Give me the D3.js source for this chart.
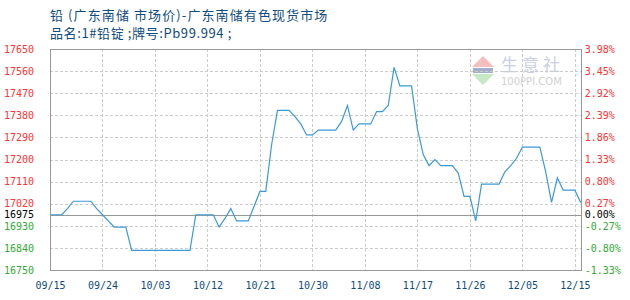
<!DOCTYPE html>
<html>
<head>
<meta charset="utf-8">
<script src="https://cdn.jsdelivr.net/npm/d3@7"></script>
<style>
  body { margin: 0; background: #fff; }
  svg { display: block; }
</style>
</head>
<body>
<svg id="chart" width="630" height="300"></svg>
<script>
// daily prices, 09/15 .. 12/16
const prices = [
  16975, 16975, 16975, 17000, 17030, 17030, 17030, 17030, 17000, 16975,
  16950, 16925, 16925, 16925, 16830, 16830, 16830, 16830, 16830, 16830,
  16830, 16830, 16830, 16830, 16830, 16975, 16975, 16975, 16975, 16925,
  16960, 17000, 16950, 16950, 16950, 17010, 17070, 17070, 17260, 17400,
  17400, 17400, 17375, 17345, 17300, 17300, 17320, 17320, 17320, 17320,
  17355, 17420, 17320, 17345, 17345, 17345, 17395, 17395, 17420, 17575,
  17500, 17500, 17500, 17325, 17220, 17175, 17200, 17175, 17175, 17175,
  17145, 17050, 17050, 16950, 17100, 17100, 17100, 17100, 17150, 17175,
  17205, 17250, 17250, 17250, 17250, 17150, 17025, 17125, 17075, 17075,
  17075, 17025
];
const dateLabels = ["09/15", "09/24", "10/03", "10/12", "10/21", "10/30", "11/08", "11/17", "11/26", "12/05", "12/15"];
const yTicks = [16750, 16840, 16930, 17020, 17110, 17200, 17290, 17380, 17470, 17560, 17650];
const basePrice = 16975;

const svg = d3.select("#chart");
const plotLeft = 50, plotRight = 580.7, plotTop = 49, plotBottom = 270;
const labelStep = 9;

const red = "#ff3333", green = "#33aa33", navy = "#0f4c81";
const mono = "'DejaVu Sans Mono', monospace";

// Scales
const x = d3.scaleLinear().domain([0, prices.length - 1]).range([plotLeft, plotRight]);
const y = d3.scaleLinear().domain([d3.min(yTicks), d3.max(yTicks)]).range([plotBottom, plotTop]);

// Title
const title = svg.append("g")
  .attr("font-family", "'Noto Sans CJK SC', sans-serif")
  .attr("font-size", 13)
  .attr("fill", navy);
title.append("text").attr("x", 50).attr("y", 20).attr("letter-spacing", 1.1)
  .text("铅 (广东南储 市场价)-广东南储有色现货市场");
title.append("text").attr("x", 50).attr("y", 38).attr("letter-spacing", 0.6)
  .text("品名:1#铅锭 ;牌号:Pb99.994 ;");

// Watermark
const wm = svg.append("g").attr("opacity", 0.9);
wm.append("path").attr("d", "M483,56 L494,67 L472,67 Z").attr("fill", "#f4b8b8");
wm.append("rect").attr("x", 473).attr("y", 68).attr("width", 20).attr("height", 5).attr("fill", "#9aa6c6");
wm.append("path").attr("d", "M472,74 L494,74 L483,85 Z").attr("fill", "#bfe6bf");
wm.append("text").attr("x", 501).attr("y", 71)
  .attr("font-family", "'Noto Sans CJK SC', sans-serif").attr("font-size", 17)
  .attr("fill", "#c5cadf").attr("letter-spacing", 4).text("生意社");
wm.append("text").attr("x", 501).attr("y", 85)
  .attr("font-family", "'DejaVu Sans', sans-serif").attr("font-size", 10)
  .attr("fill", "#cccccc").text("100PPI.COM");

// Grid
const grid = svg.append("g")
  .attr("stroke", "#cccccc")
  .attr("stroke-dasharray", "3,2")
  .attr("shape-rendering", "crispEdges");
grid.selectAll("line.h")
  .data(yTicks.slice(1, -1))
  .enter().append("line")
  .attr("x1", plotLeft).attr("x2", plotRight)
  .attr("y1", d => Math.round(y(d)) + 0.5).attr("y2", d => Math.round(y(d)) + 0.5);
grid.selectAll("line.v")
  .data(dateLabels.slice(1))
  .enter().append("line")
  .attr("x1", (d, i) => Math.round(x((i + 1) * labelStep)) + 0.5)
  .attr("x2", (d, i) => Math.round(x((i + 1) * labelStep)) + 0.5)
  .attr("y1", plotTop).attr("y2", plotBottom);

// Frame + base line
svg.append("rect")
  .attr("x", plotLeft + 0.5).attr("y", Math.round(plotTop) + 0.5)
  .attr("width", Math.round(plotRight - plotLeft)).attr("height", plotBottom - Math.round(plotTop))
  .attr("fill", "none").attr("stroke", "#999999")
  .attr("stroke-width", 1.5).attr("shape-rendering", "crispEdges");
svg.append("line")
  .attr("x1", plotLeft).attr("x2", plotRight)
  .attr("y1", Math.round(y(basePrice)) + 0.5).attr("y2", Math.round(y(basePrice)) + 0.5)
  .attr("stroke", "#999999").attr("stroke-width", 1.5).attr("shape-rendering", "crispEdges");

// Left axis (prices)
const axisVals = yTicks.concat([basePrice]);
const colorOf = v => v > basePrice ? red : (v < basePrice ? green : "#000");
const yAxisL = d3.axisLeft(y).tickValues(axisVals).tickSize(0).tickPadding(0).tickFormat(d3.format("d"));
const gL = svg.append("g")
  .attr("transform", `translate(${plotLeft - 16},0)`)
  .call(yAxisL);
gL.select(".domain").remove();
gL.selectAll("text")
  .attr("font-family", mono).attr("font-size", 10)
  .attr("fill", d => colorOf(d));

// Right axis (percent change)
const pct = d => ((d - basePrice) / basePrice * 100).toFixed(2) + "%";
const yAxisR = d3.axisRight(y).tickValues(axisVals).tickSize(0).tickPadding(0).tickFormat(pct);
const gR = svg.append("g")
  .attr("transform", `translate(${plotRight + 4},0)`)
  .call(yAxisR);
gR.select(".domain").remove();
gR.selectAll("text")
  .attr("font-family", mono).attr("font-size", 10)
  .attr("fill", d => colorOf(d));

// Bottom axis (dates)
const xAxis = d3.axisBottom(x)
  .tickValues(dateLabels.map((d, i) => i * labelStep))
  .tickSize(0).tickPadding(0)
  .tickFormat((d, i) => dateLabels[i]);
const gX = svg.append("g")
  .attr("transform", `translate(0,${plotBottom + 12})`)
  .call(xAxis);
gX.select(".domain").remove();
gX.selectAll("text")
  .attr("font-family", mono).attr("font-size", 10)
  .attr("fill", navy);

// Price line
const line = d3.line()
  .x((d, i) => x(i))
  .y(d => y(d));
svg.append("path")
  .datum(prices)
  .attr("fill", "none")
  .attr("stroke", "#3a9ad9")
  .attr("stroke-width", 1.2)
  .attr("d", line);
</script>
</body>
</html>
